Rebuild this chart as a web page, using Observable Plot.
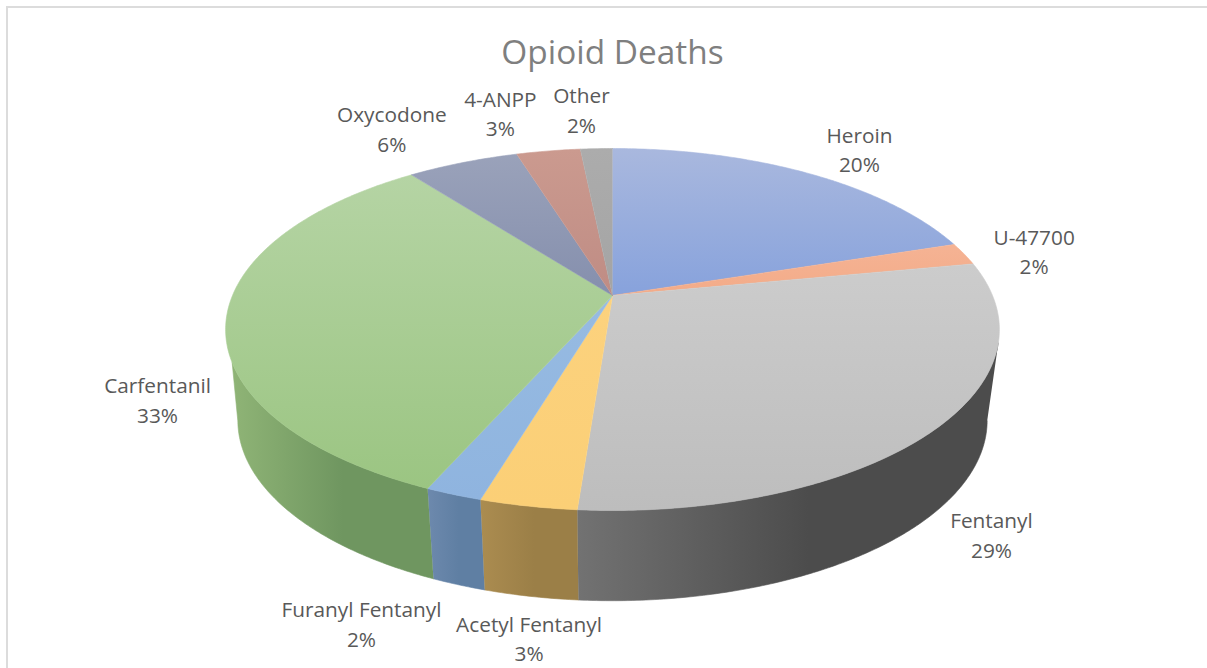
<!DOCTYPE html>
<html>
<head>
<meta charset="utf-8">
<script src="https://cdn.jsdelivr.net/npm/d3@7"></script>
<script src="https://cdn.jsdelivr.net/npm/@observablehq/plot@0.6"></script>
<style>
  html, body { margin: 0; padding: 0; background: #fff; overflow: hidden; }
  #chart { position: relative; width: 1207px; height: 668px; }
  #chart svg { display: block; }
  #frame { position: absolute; left: 6px; top: 6px; right: 0; bottom: 0;
           border-top: 2px solid #dcdcdc; border-left: 2px solid #dcdcdc; pointer-events: none; }
</style>
</head>
<body>
<div id="chart"><div id="frame"></div></div>
<script>
// Data, clockwise from twelve o'clock
const categories = ["Heroin", "U-47700", "Fentanyl", "Acetyl Fentanyl", "Furanyl Fentanyl",
                    "Carfentanil", "Oxycodone", "4-ANPP", "Other"];
const shares = [20, 2, 29.2, 3.4, 2, 33, 5.6, 3.2, 1.6];

// Colours
const topLight = ["#a9b8de", "#f5b394", "#cccccc", "#fcd27e", "#97bbe2", "#b5d4a4", "#9aa2ba", "#cb9a8f", "#acacac"];
const topDark  = ["#87a2dc", "#f3ab88", "#bdbdbd", "#fbcf76", "#8fb4df", "#9bc582", "#858fad", "#bf8c84", "#a4a4a4"];
const wallLight = ["#6a80b0", "#b07a5c", "#727272", "#ab8c50", "#6d89ad", "#8fb476", "#6a7590", "#a07a70", "#808080"];
const wallDark  = ["#5a70a0", "#a06c50", "#4c4c4c", "#9b7f47", "#5f7fa3", "#6f9660", "#5e6a85", "#8f6c64", "#707070"];

// Label placement relative to each slice's rim midpoint
const labelDx = [53, 70, 55, 1, -92, -69, -71, -48, -15];
const labelDy = [-25, -4, 105, 131, 128, 82, -35, -39, -40];

// Tilted disc seen in perspective
const cx = 612, perspective = 0.1878;
const topRim = {cy: 295, rx: 380, ry: 174.6};
const baseRim = {cy: 386, rx: 368, ry: 174};
const deg = Math.PI / 180;
// The wall is only visible between the silhouette lines of the cylinder
const topVisible = [105 * deg, 249 * deg];
const baseVisible = [101 * deg, 259 * deg];

const project = (rim, a) => {
  const w = 1 + perspective * Math.cos(a);
  return {x: cx + rim.rx * Math.sin(a) / w, y: rim.cy - rim.ry * Math.cos(a) / w};
};

const pie = d3.pie().sort(null).value((d) => d)(shares);
const arcPoints = (rim, a0, a1) => {
  const n = Math.max(2, Math.ceil((a1 - a0) / 0.01));
  return d3.range(n + 1).map((i) => project(rim, a0 + (a1 - a0) * i / n));
};
const clippedArc = (rim, [lo, hi], p) =>
  arcPoints(rim, Math.max(lo, p.startAngle), Math.min(hi, p.endAngle));

const topFaces = pie.map((p) => [{x: cx, y: topRim.cy}, ...arcPoints(topRim, p.startAngle, p.endAngle)]);
const walls = pie
  .map((p, i) => ({p, i}))
  .filter(({p}) => p.endAngle > baseVisible[0] && p.startAngle < baseVisible[1])
  .map(({p, i}) => ({
    i,
    pts: [...clippedArc(topRim, topVisible, p), ...clippedArc(baseRim, baseVisible, p).reverse()]
  }));

const labels = pie.map((p, i) => ({
  ...project(topRim, (p.startAngle + p.endAngle) / 2),
  text: `${categories[i]}\n${d3.format(".0f")(shares[i])}%`,
  dx: labelDx[i],
  dy: labelDy[i]
}));

const gradients = () => {
  const defs = d3.create("svg:defs");
  const add = (id, dir, stops) => {
    const g = defs.append("linearGradient").attr("id", id)
      .attr("x1", 0).attr("y1", 0)
      .attr("x2", dir === "h" ? 1 : 0).attr("y2", dir === "h" ? 0 : 1);
    stops.forEach(([o, c]) => g.append("stop").attr("offset", o).attr("stop-color", c));
  };
  categories.forEach((_, i) => {
    add(`top${i}`, "v", [[0, topLight[i]], [1, topDark[i]]]);
    add(`wall${i}`, "h", [[0, wallLight[i]], [0.55, wallDark[i]], [1, wallDark[i]]]);
  });
  return defs.node();
};

const font = "'Open Sans', sans-serif";
const chart = Plot.plot({
  width: 1207,
  height: 668,
  margin: 0,
  x: {type: "linear", domain: [0, 1207], range: [0, 1207], axis: null},
  y: {type: "linear", domain: [0, 668], range: [0, 668], axis: null},
  style: {background: "transparent"},
  marks: [
    gradients,
    ...walls.map(({pts, i}) => Plot.line(pts, {x: "x", y: "y", fill: `url(#wall${i})`, stroke: `url(#wall${i})`, strokeWidth: 0.6})),
    ...topFaces.map((pts, i) => Plot.line(pts, {x: "x", y: "y", fill: `url(#top${i})`, stroke: `url(#top${i})`, strokeWidth: 0.6})),
    ...labels.map((l) => Plot.text([l], {
      x: "x", y: "y", text: "text", dx: l.dx, dy: l.dy,
      fontFamily: font, fontSize: 20.8, lineHeight: 1.42, lineAnchor: "middle", fill: "#595959"
    })),
    Plot.text([{x: cx, y: 53, text: "Opioid Deaths"}], {
      x: "x", y: "y", text: "text", fontFamily: font, fontSize: 33.4, fill: "#7f7f7f", lineAnchor: "middle"
    })
  ]
});
document.getElementById("chart").prepend(chart);
</script>
</body>
</html>
